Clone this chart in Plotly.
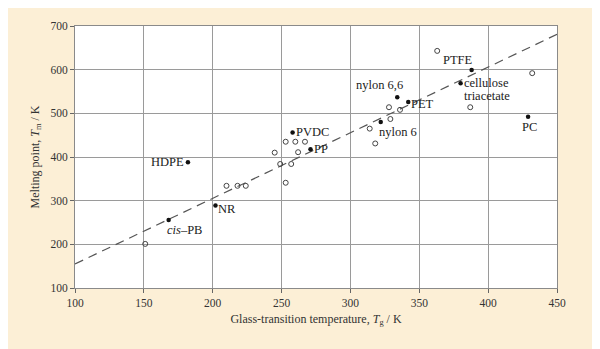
import plotly.graph_objects as go

# Labelled polymers (filled dots)
labels = ["HDPE", "PVDC", "PP", "nylon 6,6", "PET", "nylon 6", "PTFE",
          "cellulose<br>triacetate", "PC", "NR", "<i>cis</i>–PB"]
tg_labelled = [182, 258, 271, 334, 342, 322, 388, 380, 429, 202, 168]
tm_labelled = [388, 456, 418, 537, 526, 480, 599, 569, 492, 289, 256]

# Unlabelled polymers (open circles)
tg_open = [363, 432, 387, 328, 336, 329, 314, 318, 253, 260, 267,
           245, 262, 249, 257, 253, 210, 218, 224, 151]
tm_open = [643, 592, 514, 514, 508, 487, 465, 431, 435, 435, 435,
           410, 411, 384, 384, 341, 334, 334, 334, 201]

# Trend line (Tm ≈ 1.5 Tg)
trend_tg = [100, 450]
trend_tm = [155, 681]

x_ticks = [100, 150, 200, 250, 300, 350, 400, 450]
y_ticks = [100, 200, 300, 400, 500, 600, 700]

# label placement: (xanchor, yanchor, xshift, yshift)
placement = {
    "HDPE": ("right", "middle", -2, 0),
    "PVDC": ("left", "middle", 1, 1),
    "PP": ("left", "middle", 2, 0),
    "nylon 6,6": ("right", "bottom", 8, 3),
    "PET": ("left", "middle", 1, -2),
    "nylon 6": ("left", "top", -4, -1),
    "PTFE": ("right", "bottom", 3, 1),
    "cellulose<br>triacetate": ("left", "middle", 1, 0),
    "PC": ("center", "top", 1, -1),
    "NR": ("left", "middle", 1, -4),
    "<i>cis</i>–PB": ("left", "top", -4, -1),
}

FONT = "Liberation Serif, Times New Roman, serif"
LINE_GAP = 13  # px between wrapped label lines

fig = go.Figure()
fig.add_trace(go.Scatter(
    x=trend_tg, y=trend_tm, mode="lines",
    line=dict(color="#555555", width=1.2, dash="9px,6px"),
    hoverinfo="skip", showlegend=False))
fig.add_trace(go.Scatter(
    x=tg_open, y=tm_open, mode="markers",
    marker=dict(size=5, color="rgba(0,0,0,0)", line=dict(color="#444444", width=1)),
    showlegend=False))
fig.add_trace(go.Scatter(
    x=tg_labelled, y=tm_labelled, mode="markers",
    marker=dict(size=4.5, color="#111111"),
    showlegend=False))

for lab, x, y in zip(labels, tg_labelled, tm_labelled):
    xa, ya, xs, ys = placement[lab]
    for i, part in enumerate(lab.split("<br>")):
        fig.add_annotation(x=x, y=y, text=part, showarrow=False,
                           xanchor=xa, yanchor=ya, xshift=xs, yshift=ys - i * LINE_GAP,
                           font=dict(family=FONT, size=12.5, color="#222222"))

axis_common = dict(
    showgrid=True, gridcolor="#9a9a9a", gridwidth=1,
    showline=True, linecolor="#8a8a8a", linewidth=1, mirror=True,
    ticks="outside", ticklen=4, tickcolor="#666666",
    tickfont=dict(family=FONT, size=11.5, color="#333333"),
    zeroline=False,
)

fig.update_xaxes(range=[100, 450], tickvals=x_ticks,
                 title=dict(text="Glass-transition temperature, <i>T</i><sub>g</sub> / K",
                            font=dict(family=FONT, size=12, color="#333333"), standoff=6),
                 **axis_common)
fig.update_yaxes(range=[100, 700], tickvals=y_ticks,
                 title=dict(text="Melting point, <i>T</i><sub>m</sub> / K",
                            font=dict(family=FONT, size=12, color="#333333"), standoff=8),
                 **axis_common)

fig.update_layout(
    width=600, height=349,
    margin=dict(l=67, r=51, t=18, b=69),
    paper_bgcolor="#fcefd6",
    plot_bgcolor="#ffffff",
    showlegend=False,
)

fig.write_html("out.html")
